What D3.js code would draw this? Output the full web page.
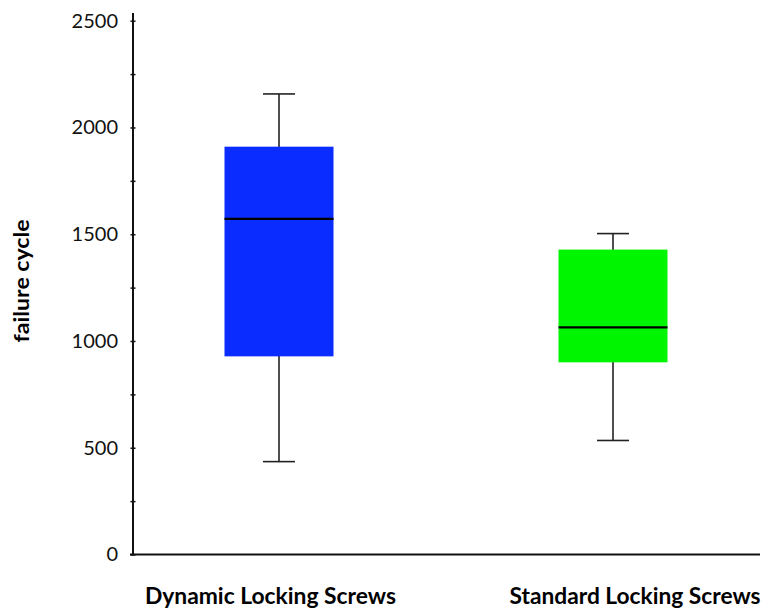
<!DOCTYPE html>
<html><head><meta charset="utf-8">
<script src="https://cdn.jsdelivr.net/npm/d3@7"></script>
<style>body{margin:0;background:#fff}svg{display:block}</style>
</head><body>
<svg id="c" width="772" height="608"></svg>
<script>
const categories = ["Dynamic Locking Screws", "Standard Locking Screws"];
const whiskerLow  = [435, 534];
const q1          = [928, 900];
const median      = [1572, 1064];
const q3          = [1910, 1428];
const whiskerHigh = [2157, 1503];
const colors = ["#0a2cff", "#00f500"];
const yTicks = [0, 250, 500, 750, 1000, 1250, 1500, 1750, 2000, 2250, 2500];
const yTitle = "failure cycle";

const svg = d3.select("#c");
const y = d3.scaleLinear().domain([0, 2500]).range([554.5, 20.7]);
const x = d3.scalePoint().domain(categories).range([279, 613]);
const xLabel = d3.scalePoint().domain(categories).range([270.5, 635]);
const boxW = 109, capW = 32;
const font = "Lato, 'Open Sans', sans-serif";

// y axis
const axisX = 133;
const ya = svg.append("g").attr("transform", `translate(${axisX + 2.5},0)`)
  .call(d3.axisLeft(y).tickValues(yTicks).tickSize(5).tickPadding(12.5)
    .tickFormat(d => d % 500 === 0 ? d : ""));
ya.select(".domain").remove();
ya.selectAll(".tick line").attr("stroke", "#111").attr("stroke-width", 1.5);
ya.selectAll(".tick text").attr("font-family", font).attr("font-size", 20).attr("fill", "#111");
svg.append("line").attr("x1", axisX).attr("x2", axisX).attr("y1", 13).attr("y2", y(0))
  .attr("stroke", "#111").attr("stroke-width", 2);
// x axis
svg.append("line").attr("x1", 130).attr("x2", 760).attr("y1", y(0)).attr("y2", y(0))
  .attr("stroke", "#111").attr("stroke-width", 2);

// boxes
const data = categories.map((c, i) => ({c, i}));
const g = svg.append("g").selectAll("g").data(data).join("g");
g.append("line").attr("x1", d => x(d.c)).attr("x2", d => x(d.c))
  .attr("y1", d => y(whiskerHigh[d.i])).attr("y2", d => y(whiskerLow[d.i]))
  .attr("stroke", "#222").attr("stroke-width", 1.6);
g.append("line").attr("x1", d => x(d.c) - capW/2).attr("x2", d => x(d.c) + capW/2)
  .attr("y1", d => y(whiskerHigh[d.i])).attr("y2", d => y(whiskerHigh[d.i]))
  .attr("stroke", "#222").attr("stroke-width", 1.6);
g.append("line").attr("x1", d => x(d.c) - capW/2).attr("x2", d => x(d.c) + capW/2)
  .attr("y1", d => y(whiskerLow[d.i])).attr("y2", d => y(whiskerLow[d.i]))
  .attr("stroke", "#222").attr("stroke-width", 1.6);
g.append("rect").attr("x", d => x(d.c) - boxW/2).attr("width", boxW)
  .attr("y", d => y(q3[d.i])).attr("height", d => y(q1[d.i]) - y(q3[d.i]))
  .attr("fill", d => colors[d.i]);
g.append("line").attr("x1", d => x(d.c) - boxW/2).attr("x2", d => x(d.c) + boxW/2)
  .attr("y1", d => y(median[d.i])).attr("y2", d => y(median[d.i]))
  .attr("stroke", "#000").attr("stroke-width", 2.2);

// category labels
svg.append("g").selectAll("text").data(categories).join("text")
  .attr("x", d => xLabel(d)).attr("y", 604).attr("text-anchor", "middle")
  .attr("font-family", font).attr("font-weight", "bold").attr("font-size", 23.5)
  .attr("textLength", 251).attr("lengthAdjust", "spacingAndGlyphs")
  .attr("fill", "#000").text(d => d);

// y title
svg.append("text").attr("transform", "translate(29,281) rotate(-90)")
  .attr("text-anchor", "middle").attr("font-family", font).attr("font-weight", "bold")
  .attr("font-size", 20).attr("textLength", 123).attr("lengthAdjust", "spacingAndGlyphs")
  .attr("fill", "#000").text(yTitle);
</script>
</body></html>
